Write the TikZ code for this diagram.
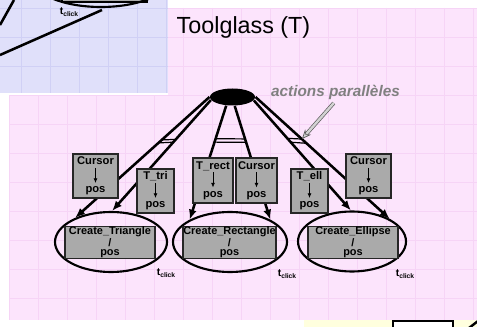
\documentclass[tikz,border=0pt]{standalone}
\usepackage{fontspec}
\setmainfont{Liberation Sans}
\usetikzlibrary{arrows.meta,shapes.geometric,calc}

\definecolor{slidepink}{RGB}{252,228,252}
\definecolor{pinkgrid}{RGB}{246,212,246}
\definecolor{slideblue}{RGB}{224,224,250}
\definecolor{bluegrid}{RGB}{208,208,245}
\definecolor{boxgray}{RGB}{170,170,170}
\definecolor{notegray}{RGB}{128,128,128}
\definecolor{slideyellow}{RGB}{255,255,222}

\newcommand{\tclick}{{\bfseries\fontsize{7.8}{8}\selectfont t\raisebox{-1.5pt}{\fontsize{5}{5}\selectfont click}}}

\tikzset{every picture/.style={line width=0.75pt}}
\tikzset{
  lbl/.style={draw=black!85, line width=0.9pt, fill=boxgray, inner sep=0pt, align=center,
    font=\bfseries\fontsize{8.4}{10.5}\selectfont},
  action/.style={draw=black!85, line width=0.9pt, fill=boxgray, inner sep=0pt, align=center,
    minimum height=23.25pt, font=\bfseries\fontsize{8.2}{7.2}\selectfont},
  state/.style={ellipse, draw, line width=1.6pt, inner sep=0pt, minimum height=45pt},
  flow/.style={line width=1.9pt, -{Latex[length=7.5pt,width=6pt]}},
  bar/.style={line width=0.9pt},
  smallarr/.style={line width=0.6pt, -{Latex[length=3.5pt,width=3pt]}},
  hint/.style={draw=gray!70!black, line width=0.5pt, double=gray!35, double distance=1.8pt,
    -{Stealth[length=7pt,width=6pt,fill=gray!35]}},
}

\begin{document}
\begin{tikzpicture}[x=0.75pt,y=0.75pt,yscale=-1,xscale=1]
\useasboundingbox (0,0) rectangle (477,327);
\clip (0,0) rectangle (477,327);
\fill[white] (0,0) rectangle (477,327);

%Shape: Rectangle (pink sheet + grid)
\fill[slidepink] (9,8) rectangle (477,320);
\draw[pinkgrid, line width=0.5pt, shift={(9,8)}] (0,0) grid[step=29] (468,312);

%Shape: Rectangle (blue sheet + grid)
\fill[slideblue] (0,0) rectangle (168,93);
\draw[bluegrid, line width=0.5pt, shift={(-8,8)}] (8,-8) grid[step=29] (176,85);
\fill[white] (9,93) rectangle (168,95);
\begin{scope}
\clip (0,0) rectangle (168,93);
\draw[fill=boxgray, line width=0.9pt] (62,-10) rectangle (147,2);
\draw[line width=1.6pt] (101,-23) ellipse [x radius=70, y radius=30];
\draw[line width=1.9pt] (0,55) -- (102,10);
\draw[line width=1.9pt] (14,0) -- (0,25);
\end{scope}
% Text Node
\node (tc0) at (69,12) {\tclick};

%Shape: Rectangle (yellow sheet)
\fill[slideyellow] (304,320) rectangle (477,327);
\draw[fill=white, line width=1pt] (393,335) -- (393,321) -- (453,321) -- (453,335);
\draw[line width=1.8pt] (469,328) -- (478,321);

% Text Node
\node (title) at (243.5,27) {\fontsize{17.5}{20}\selectfont Toolglass (T)};

%Shape: Ellipse (fork)
\node[ellipse, fill=black, inner sep=0pt, minimum width=33.75pt, minimum height=12.75pt] (fork) at (232.5,97) {};

%Shape: Ellipse (states)
\node[state, minimum width=84pt] (tri) at (111,242) {};
\node[state, minimum width=85.5pt] (rect) at (230,242) {};
\node[state, minimum width=81pt] (ell) at (352,241.5) {};
\node[action, minimum width=67.5pt] (ctri) at (110,242.5) {Create\_Triangle\\/\\pos};
\node[action, minimum width=69.75pt] (crect) at (229.5,242.5) {Create\_Rectangle\\/\\pos};
\node[action, minimum width=67.5pt] (cell) at (353,242.5) {Create\_Ellipse\\/\\pos};

%Straight Lines (parallel branches)
\draw[flow] (fork.180) -- coordinate[pos=.355] (l1a) coordinate[pos=.38] (l1b) (tri.146);
\draw[flow] (fork.188) -- coordinate[pos=.355] (l2a) coordinate[pos=.38] (l2b) (tri.88);
\draw[flow] (fork.234) -- coordinate[pos=.29] (m1a) coordinate[pos=.32] (m1b) (rect.151);
\draw[flow] (fork.284) -- coordinate[pos=.29] (m2a) coordinate[pos=.32] (m2b) (rect.29);
\draw[flow] (fork.351) -- coordinate[pos=.345] (r1a) coordinate[pos=.38] (r1b) (ell.92);
\draw[flow] (fork.0) -- coordinate[pos=.345] (r2a) coordinate[pos=.38] (r2b) (ell.31);
\foreach \p in {l,m,r} {
  \draw[bar] (\p1a) -- (\p2a);
  \draw[bar] (\p1b) -- (\p2b);
}

%Shape: Rectangle (event labels)
\node[lbl, minimum width=33.75pt, minimum height=33pt] (cur1) at (95.5,176) {Cursor\\[10.5pt]pos};
\node[lbl, minimum width=27.75pt, minimum height=33pt] (ttri) at (155.5,191) {T\_tri\\[10.5pt]pos};
\node[lbl, minimum width=30pt, minimum height=33.75pt] (trect) at (213,180.5) {T\_rect\\[10.5pt]pos};
\node[lbl, minimum width=30.75pt, minimum height=33.75pt] (cur2) at (256.5,180.5) {Cursor\\[10.5pt]pos};
\node[lbl, minimum width=27.75pt, minimum height=33pt] (tell) at (309.5,191) {T\_ell\\[10.5pt]pos};
\node[lbl, minimum width=33.75pt, minimum height=33pt] (cur3) at (368.5,176) {Cursor\\[10.5pt]pos};
\foreach \b in {cur1,ttri,trect,cur2,tell,cur3}
  \draw[smallarr] ($(\b.center)+(0,-8)$) -- ($(\b.center)+(0,7)$);

% Text Node
\node (tc1) at (166,273) {\tclick};
\node (tc2) at (287,274) {\tclick};
\node (tc3) at (405,274) {\tclick};

% Text Node
\node[font=\bfseries\itshape\fontsize{11.5}{13}\selectfont, text=notegray, inner sep=1pt] (note) at (335.5,92) {actions parallèles};
\coordinate (hintend) at (302,139);
\draw[hint, shorten <=2pt] (note.south) -- (hintend);

\end{tikzpicture}
\end{document}
